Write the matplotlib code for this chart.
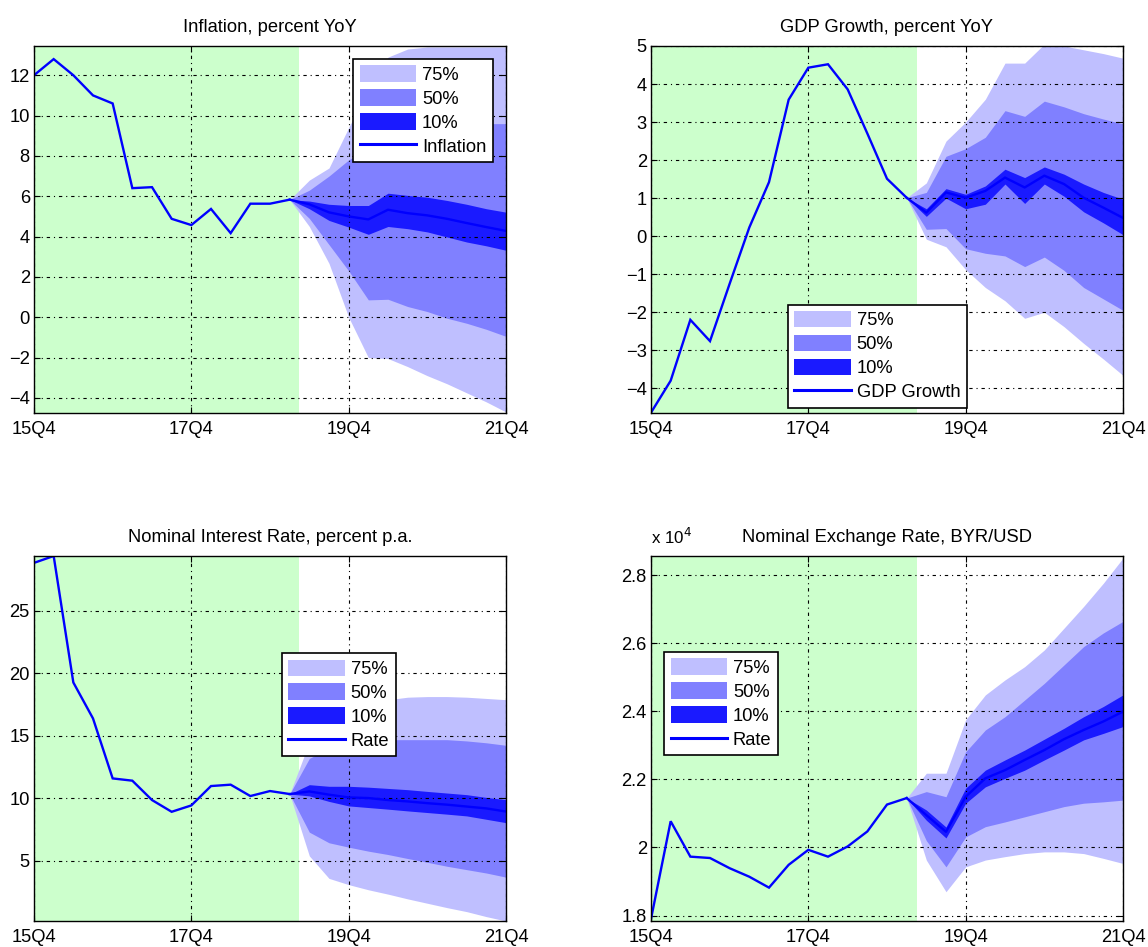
import matplotlib
matplotlib.use("Agg")
import matplotlib.pyplot as plt
from matplotlib.patches import Patch
from matplotlib.lines import Line2D
from matplotlib.ticker import FuncFormatter
import numpy as np

plt.rcParams['font.family'] = ['Liberation Sans', 'DejaVu Sans']

# ---------------- data ----------------
quarters = ['15Q4', '16Q1', '16Q2', '16Q3', '16Q4', '17Q1', '17Q2', '17Q3', '17Q4',
            '18Q1', '18Q2', '18Q3', '18Q4', '19Q1', '19Q2', '19Q3', '19Q4',
            '20Q1', '20Q2', '20Q3', '20Q4', '21Q1', '21Q2', '21Q3', '21Q4']
tick_labels = ['15Q4', '17Q4', '19Q4', '21Q4']
last_hist = '19Q1'
band_labels = ['75%', '50%', '10%']

# Inflation, percent YoY
infl_hist = [12.0, 12.8, 12.0, 11.0, 10.6, 6.4, 6.45, 4.88, 4.57, 5.37, 4.17, 5.63, 5.63, 5.83]
infl_med = [5.83, 5.6, 5.2, 5.0, 4.85, 5.33, 5.16, 5.05, 4.88, 4.67, 4.47, 4.28]
infl_lo10 = [5.83, 5.38, 4.8, 4.47, 4.11, 4.5, 4.39, 4.23, 3.98, 3.73, 3.54, 3.32]
infl_hi10 = [5.83, 5.76, 5.6, 5.54, 5.54, 6.15, 6.04, 5.95, 5.79, 5.6, 5.38, 5.21]
infl_lo50 = [5.83, 4.9, 3.6, 2.3, 0.86, 0.89, 0.53, 0.28, -0.05, -0.3, -0.6, -0.95]
infl_hi50 = [5.83, 6.3, 7.0, 7.8, 8.4, 8.9, 9.2, 9.4, 9.5, 9.6, 9.6, 9.6]
infl_lo75 = [5.83, 4.5, 2.67, 0.0, -2.0, -2.05, -2.45, -2.9, -3.3, -3.75, -4.2, -4.7]
infl_hi75 = [5.83, 6.8, 7.4, 9.4, 11.3, 12.9, 13.3, 13.4, 13.4, 13.4, 13.4, 13.4]

# GDP growth, percent YoY
gdp_hist = [-4.64, -3.8, -2.2, -2.76, -1.25, 0.23, 1.42, 3.59, 4.43, 4.52, 3.86, 2.7, 1.51, 1.01]
gdp_med = [1.01, 0.62, 1.15, 1.01, 1.19, 1.54, 1.28, 1.59, 1.37, 1.01, 0.75, 0.48]
gdp_lo10 = [1.01, 0.52, 1.0, 0.72, 0.84, 1.37, 0.86, 1.37, 1.05, 0.64, 0.35, 0.04]
gdp_hi10 = [1.01, 0.72, 1.25, 1.1, 1.32, 1.76, 1.54, 1.82, 1.63, 1.37, 1.15, 0.97]
gdp_lo50 = [1.01, 0.18, 0.2, -0.33, -0.45, -0.52, -0.8, -0.55, -0.9, -1.35, -1.65, -1.95]
gdp_hi50 = [1.01, 1.15, 2.1, 2.3, 2.6, 3.3, 3.15, 3.55, 3.4, 3.22, 3.08, 2.95]
gdp_lo75 = [1.01, -0.08, -0.28, -0.88, -1.35, -1.7, -2.16, -2.0, -2.38, -2.82, -3.23, -3.66]
gdp_hi75 = [1.01, 1.4, 2.5, 3.0, 3.6, 4.55, 4.55, 5.05, 5.0, 4.9, 4.8, 4.68]

# Nominal interest rate, percent p.a.
rate_hist = [28.85, 29.4, 19.28, 16.4, 11.6, 11.42, 9.87, 8.93, 9.44, 10.99, 11.1, 10.19, 10.59, 10.35]
rate_med = [10.35, 10.56, 10.3, 10.08, 10.03, 9.87, 9.76, 9.62, 9.5, 9.35, 9.2, 8.95]
rate_lo10 = [10.35, 10.2, 9.76, 9.4, 9.27, 9.14, 9.0, 8.87, 8.74, 8.6, 8.33, 8.06]
rate_hi10 = [10.35, 11.1, 10.97, 10.97, 10.9, 10.8, 10.7, 10.56, 10.43, 10.3, 10.08, 9.9]
rate_lo50 = [10.35, 7.3, 6.45, 6.1, 5.78, 5.51, 5.19, 4.89, 4.57, 4.3, 4.03, 3.7]
rate_hi50 = [10.35, 13.2, 14.0, 14.4, 14.6, 14.7, 14.7, 14.7, 14.7, 14.6, 14.45, 14.25]
rate_lo75 = [10.35, 5.4, 3.6, 3.1, 2.69, 2.34, 1.96, 1.61, 1.26, 0.94, 0.54, 0.19]
rate_hi75 = [10.35, 14.5, 16.0, 17.0, 17.5, 17.9, 18.1, 18.15, 18.15, 18.1, 18.0, 17.9]

# Nominal exchange rate, BYR/USD
fx_hist = [17900, 20770, 19730, 19690, 19390, 19140, 18820, 19490, 19930, 19730, 20030, 20470, 21260, 21450]
fx_med = [21450, 20950, 20460, 21490, 22030, 22270, 22570, 22860, 23180, 23450, 23700, 23990]
fx_lo10 = [21450, 20800, 20280, 21300, 21780, 22030, 22270, 22570, 22860, 23160, 23350, 23550]
fx_hi10 = [21450, 21100, 20600, 21740, 22270, 22570, 22860, 23180, 23500, 23840, 24140, 24480]
fx_lo50 = [21450, 20200, 19430, 20310, 20610, 20750, 20900, 21050, 21200, 21300, 21340, 21390]
fx_hi50 = [21450, 21640, 21490, 22810, 23450, 23840, 24330, 24820, 25360, 25900, 26300, 26640]
fx_lo75 = [21450, 19630, 18700, 19430, 19630, 19730, 19820, 19870, 19870, 19820, 19680, 19530]
fx_hi75 = [21450, 22180, 22180, 23750, 24480, 24920, 25310, 25800, 26440, 27080, 27760, 28500]

# ---------------- style ----------------
GREEN = '#CCFFCC'
C75 = '#BFBFFF'
C50 = '#8080FF'
C10 = '#1A1AFF'
LINE = '#0000FF'
FS = 13.2

x = np.arange(len(quarters))
i_last = quarters.index(last_hist)
x_hist = x[:i_last + 1]
x_fc = x[i_last:]
tick_pos = [quarters.index(q) for q in tick_labels]

fig = plt.figure(figsize=(11.48, 9.47), dpi=100)

W = 472 / 1148
H = 367 / 947
pos = {
    'tl': [34 / 1148, 1 - 413 / 947, W, H],
    'tr': [651 / 1148, 1 - 413 / 947, W, H],
    'bl': [34 / 1148, 1 - 921 / 947, W, 365 / 947],
    'br': [651 / 1148, 1 - 921 / 947, W, 365 / 947],
}


def panel(key, title, hist, med, lo10, hi10, lo50, hi50, lo75, hi75,
          label, ylim, yticks, leg_loc, leg_anchor, fmt=None):
    ax = fig.add_axes(pos[key])
    ax.axvspan(x[0], i_last + 0.5, color=GREEN, lw=0, zorder=0)
    ax.fill_between(x_fc, lo75, hi75, color=C75, lw=0, zorder=1)
    ax.fill_between(x_fc, lo50, hi50, color=C50, lw=0, zorder=1.1)
    ax.fill_between(x_fc, lo10, hi10, color=C10, lw=0, zorder=1.2)
    ax.plot(x_hist, hist, color=LINE, lw=1.7, zorder=3, solid_joinstyle='miter')
    ax.plot(x_fc, med, color=LINE, lw=1.7, zorder=3)
    ax.set_xlim(x[0], x[-1])
    ax.set_ylim(*ylim)
    ax.set_xticks(tick_pos)
    ax.set_xticklabels(tick_labels)
    ax.set_yticks(yticks)
    if fmt is not None:
        ax.yaxis.set_major_formatter(FuncFormatter(fmt))
    ax.set_axisbelow(False)
    ax.grid(True, color='black', lw=0.8, linestyle=(0, (3, 3.5, 1, 3.5)), zorder=2.5)
    ax.tick_params(direction='in', length=4, width=0.8, labelsize=FS,
                   top=True, right=True, pad=3)
    ax.tick_params(axis='x', pad=6)
    for s in ax.spines.values():
        s.set_linewidth(1.0)
        s.set_zorder(4)
    ax.set_title(title, fontsize=FS, pad=10)
    handles = [Patch(facecolor=C75, edgecolor='none'),
               Patch(facecolor=C50, edgecolor='none'),
               Patch(facecolor=C10, edgecolor='none'),
               Line2D([], [], color=LINE, lw=2.2)]
    leg = ax.legend(handles, band_labels + [label], loc=leg_loc,
                    bbox_to_anchor=leg_anchor, fontsize=FS, frameon=True,
                    fancybox=False, framealpha=1, edgecolor='black',
                    handlelength=3.1, handleheight=1.0, handletextpad=0.3,
                    labelspacing=0.3, borderpad=0.35, borderaxespad=0)
    leg.get_frame().set_linewidth(1.2)
    leg.set_zorder(10)
    return ax


panel('tl', 'Inflation, percent YoY', infl_hist, infl_med, infl_lo10, infl_hi10,
      infl_lo50, infl_hi50, infl_lo75, infl_hi75, 'Inflation',
      (-4.75, 13.45), np.arange(-4, 13, 2), 'upper right', (0.972, 0.965))

panel('tr', 'GDP Growth, percent YoY', gdp_hist, gdp_med, gdp_lo10, gdp_hi10,
      gdp_lo50, gdp_hi50, gdp_lo75, gdp_hi75, 'GDP Growth',
      (-4.65, 5.0), np.arange(-4, 6, 1), 'lower left', (0.29, 0.014))

panel('bl', 'Nominal Interest Rate, percent p.a.', rate_hist, rate_med, rate_lo10, rate_hi10,
      rate_lo50, rate_hi50, rate_lo75, rate_hi75, 'Rate',
      (0.19, 29.4), np.arange(5, 26, 5), 'upper left', (0.525, 0.734))

ax4 = panel('br', 'Nominal Exchange Rate, BYR/USD', fx_hist, fx_med, fx_lo10, fx_hi10,
            fx_lo50, fx_hi50, fx_lo75, fx_hi75, 'Rate',
            (17840, 28560), np.arange(18000, 28001, 2000), 'upper left', (0.028, 0.737),
            fmt=lambda v, p: f"{v / 1e4:g}")
ax4.text(0.0, 1.025, r'x 10$^4$', transform=ax4.transAxes, ha='left', va='bottom',
         fontsize=FS - 1)

fig.savefig('out.png', dpi=100)
